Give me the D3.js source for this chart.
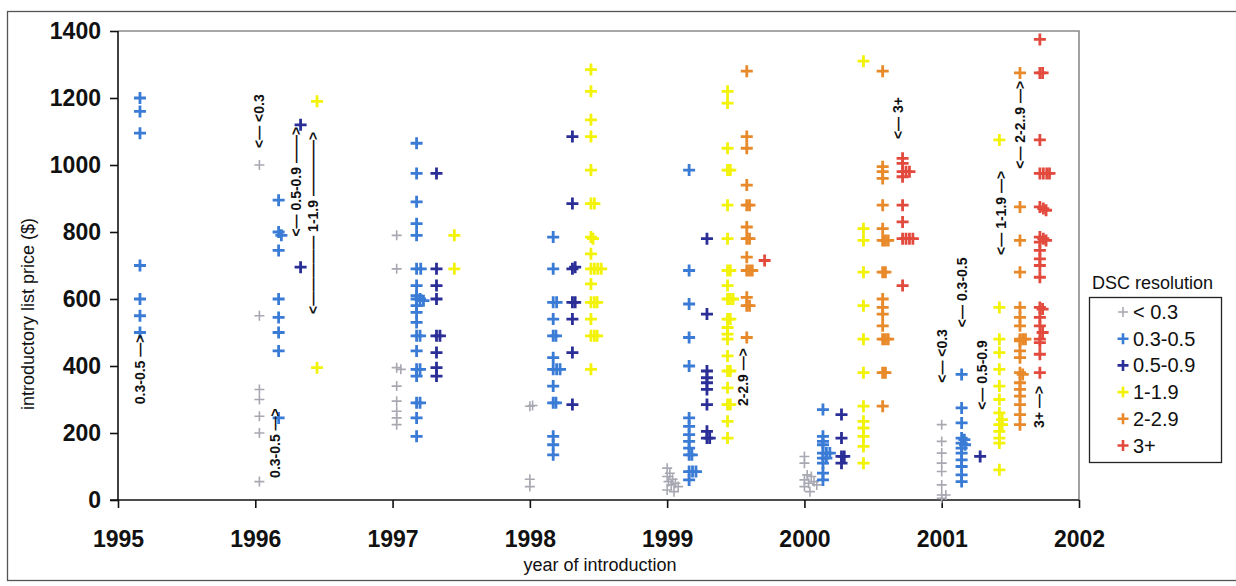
<!DOCTYPE html>
<html>
<head>
<meta charset="utf-8">
<script src="https://cdn.jsdelivr.net/npm/d3@7"></script>
<style>
    body { margin: 0; background: #fff; }
    svg { font-family: "Liberation Sans", Arial, sans-serif; }
</style>
</head>
<body>
<div id="chart"></div>
<script>
//  === Data ===
var xTicks = [1995, 1996, 1997, 1998, 1999, 2000, 2001, 2002];
var yTicks = [0, 200, 400, 600, 800, 1000, 1200, 1400];
var categories = ["< 0.3", "0.3-0.5", "0.5-0.9", "1-1.9", "2-2.9", "3+"];

// [year of introduction, list price $]
var resBelow03 = [
    [1996.03, 1000], [1996.03, 550], [1996.03, 330], [1996.03, 300], [1996.03, 250], [1996.03, 200], [1996.03, 55],
    [1997.03, 790], [1997.03, 690], [1997.03, 395], [1997.06, 390], [1997.03, 340], [1997.03, 295], [1997.03, 265], [1997.03, 245], [1997.03, 225],
    [1998.0, 280], [1998.02, 282], [1998.0, 62], [1998.0, 40],
    [1999.0, 95], [1999.02, 80], [1999.0, 70], [1999.04, 62], [1999.01, 55], [1999.06, 50], [1999.03, 45], [1999.08, 40], [1999.0, 30], [1999.05, 25],
    [2000.0, 130], [2000.0, 110], [2000.02, 75], [2000.05, 70], [2000.0, 60], [2000.07, 55], [2000.03, 50], [2000.09, 45], [2000.0, 40], [2000.04, 25],
    [2001.0, 225], [2001.0, 175], [2001.0, 140], [2001.0, 110], [2001.0, 85], [2001.0, 45], [2001.0, 15], [2001.03, 15], [2001.0, 5]
];
var res03to05 = [
    [1995.16, 1200], [1995.16, 1160], [1995.16, 1095], [1995.16, 700], [1995.16, 600], [1995.16, 550], [1995.16, 500],
    [1996.17, 895], [1996.17, 800], [1996.19, 790], [1996.17, 745], [1996.17, 600], [1996.17, 545], [1996.17, 500], [1996.17, 445], [1996.17, 245],
    [1997.175, 1065], [1997.175, 975], [1997.175, 890], [1997.175, 825], [1997.175, 790], [1997.175, 690], [1997.205, 690], [1997.175, 640],
    [1997.175, 610], [1997.175, 600], [1997.2, 600], [1997.225, 595], [1997.175, 580], [1997.175, 560], [1997.175, 530], [1997.175, 490],
    [1997.2, 490], [1997.175, 445], [1997.175, 390], [1997.2, 390], [1997.175, 370], [1997.175, 290], [1997.2, 290], [1997.175, 245], [1997.175, 190],
    [1998.17, 785], [1998.17, 690], [1998.17, 590], [1998.195, 590], [1998.17, 540], [1998.17, 490], [1998.19, 490], [1998.17, 425],
    [1998.17, 390], [1998.195, 390], [1998.22, 390], [1998.17, 340], [1998.17, 290], [1998.19, 290], [1998.17, 190], [1998.17, 165], [1998.17, 135],
    [1999.16, 985], [1999.16, 685], [1999.16, 585], [1999.16, 485], [1999.16, 400], [1999.16, 245], [1999.16, 220], [1999.16, 195],
    [1999.16, 175], [1999.16, 155], [1999.16, 135], [1999.18, 135], [1999.16, 85], [1999.185, 85], [1999.21, 85], [1999.16, 60],
    [2000.135, 270], [2000.135, 190], [2000.135, 175], [2000.135, 165], [2000.135, 140], [2000.16, 140], [2000.185, 140],
    [2000.135, 125], [2000.16, 125], [2000.135, 110], [2000.135, 80], [2000.135, 60],
    [2001.145, 375], [2001.145, 275], [2001.145, 230], [2001.145, 185], [2001.165, 180], [2001.145, 170], [2001.17, 165],
    [2001.145, 155], [2001.145, 140], [2001.145, 120], [2001.145, 100], [2001.145, 75], [2001.145, 55]
];
var res05to09 = [
    [1996.33, 1120], [1996.33, 695],
    [1997.32, 975], [1997.32, 690], [1997.32, 640], [1997.32, 600], [1997.32, 490], [1997.345, 490], [1997.32, 440], [1997.32, 395], [1997.32, 370],
    [1998.31, 1085], [1998.31, 885], [1998.31, 690], [1998.33, 695], [1998.31, 590], [1998.33, 590], [1998.31, 540], [1998.31, 440], [1998.31, 285],
    [1999.29, 780], [1999.29, 555], [1999.29, 385], [1999.29, 365], [1999.29, 350], [1999.29, 330], [1999.29, 285], [1999.29, 205], [1999.29, 185], [1999.31, 185],
    [2000.27, 255], [2000.27, 185], [2000.27, 130], [2000.29, 130], [2000.27, 110],
    [2001.28, 130]
];
var res1to19 = [
    [1996.45, 1190], [1996.45, 395],
    [1997.45, 790], [1997.45, 690],
    [1998.445, 1285], [1998.445, 1220], [1998.445, 1135], [1998.445, 1085], [1998.445, 985], [1998.445, 885], [1998.47, 885],
    [1998.445, 785], [1998.46, 780], [1998.445, 735], [1998.445, 690], [1998.47, 690], [1998.495, 690], [1998.52, 690],
    [1998.445, 645], [1998.445, 590], [1998.47, 590], [1998.49, 590], [1998.445, 540], [1998.445, 490], [1998.47, 490], [1998.49, 490], [1998.445, 390],
    [1999.44, 1220], [1999.44, 1185], [1999.44, 1050], [1999.44, 985], [1999.46, 985], [1999.44, 880], [1999.44, 780], [1999.44, 685],
    [1999.46, 685], [1999.44, 640], [1999.44, 600], [1999.46, 600], [1999.48, 600], [1999.44, 540], [1999.46, 540], [1999.44, 515],
    [1999.44, 495], [1999.44, 480], [1999.44, 430], [1999.44, 385], [1999.46, 385], [1999.44, 335], [1999.44, 285], [1999.46, 285], [1999.44, 235], [1999.44, 185],
    [2000.43, 1310], [2000.43, 810], [2000.43, 775], [2000.43, 680], [2000.43, 580], [2000.43, 480], [2000.43, 380],
    [2000.43, 280], [2000.43, 235], [2000.43, 215], [2000.43, 190], [2000.43, 160], [2000.43, 110],
    [2001.42, 1075], [2001.42, 575], [2001.42, 480], [2001.42, 440], [2001.42, 390], [2001.42, 340], [2001.42, 300], [2001.42, 260],
    [2001.44, 240], [2001.42, 225], [2001.44, 225], [2001.42, 205], [2001.42, 185], [2001.42, 170], [2001.42, 90]
];
var res2to29 = [
    [1999.58, 1280], [1999.58, 1085], [1999.58, 1050], [1999.58, 940], [1999.58, 880], [1999.6, 880], [1999.58, 815], [1999.58, 780],
    [1999.6, 780], [1999.58, 725], [1999.58, 685], [1999.6, 685], [1999.62, 685], [1999.58, 605], [1999.58, 580], [1999.6, 580], [1999.58, 485],
    [2000.57, 1280], [2000.57, 995], [2000.57, 980], [2000.57, 960], [2000.57, 880], [2000.57, 810], [2000.57, 775], [2000.59, 775],
    [2000.61, 775], [2000.57, 680], [2000.59, 680], [2000.57, 600], [2000.57, 575], [2000.57, 555], [2000.57, 520], [2000.57, 480],
    [2000.59, 480], [2000.61, 480], [2000.57, 380], [2000.59, 380], [2000.57, 280],
    [2001.57, 1275], [2001.57, 875], [2001.57, 775], [2001.57, 680], [2001.57, 575], [2001.57, 545], [2001.57, 520], [2001.57, 480],
    [2001.59, 480], [2001.61, 480], [2001.57, 475], [2001.57, 445], [2001.57, 425], [2001.57, 380], [2001.59, 375], [2001.57, 350],
    [2001.57, 330], [2001.57, 310], [2001.57, 285], [2001.57, 255], [2001.57, 225]
];
var res3plus = [
    [1999.71, 715],
    [2000.715, 1020], [2000.715, 1005], [2000.715, 980], [2000.74, 980], [2000.765, 980], [2000.715, 965], [2000.715, 880],
    [2000.715, 830], [2000.715, 780], [2000.74, 780], [2000.765, 780], [2000.79, 780], [2000.715, 640],
    [2001.715, 1375], [2001.715, 1275], [2001.735, 1275], [2001.715, 1075], [2001.715, 975], [2001.74, 975], [2001.765, 975],
    [2001.785, 975], [2001.715, 875], [2001.74, 870], [2001.76, 865], [2001.715, 785], [2001.74, 780], [2001.76, 775],
    [2001.715, 770], [2001.715, 745], [2001.715, 720], [2001.715, 700], [2001.715, 665], [2001.715, 575], [2001.735, 570],
    [2001.715, 545], [2001.715, 520], [2001.735, 500], [2001.715, 480], [2001.715, 470], [2001.715, 435], [2001.715, 380]
];

// rotated notes: [text, year, price at centre]
var notes = [
    ["0.3-0.5 \u2014>", 1995.16, 390],
    ["<\u2014 <0.3", 1996.03, 1131],
    ["0.3-0.5 \u2014>", 1996.14, 170],
    ["<\u2014 0.5-0.9 \u2014\u2014>", 1996.30, 950],
    ["<\u2014\u2014\u2014\u2014\u2014 1-1.9 \u2014\u2014\u2014\u2014>", 1996.42, 827],
    ["2-2.9 \u2014>", 1999.55, 367],
    ["<\u2014 3+", 2000.68, 1140],
    ["<\u2014 <0.3", 2001.0, 430],
    ["<\u2014 0.3-0.5", 2001.15, 620],
    ["<\u2014 0.5-0.9", 2001.29, 373],
    ["<\u2014 1-1.9 \u2014>", 2001.43, 857],
    ["<\u2014 2-2..9 \u2014>", 2001.57, 1120],
    ["3+ \u2014>", 2001.71, 278]
];
// /Data

//  === Chart ===
var width = 1236, height = 586;
var colors = ["#a8a8b2", "#3a7bd5", "#2a2e96", "#f2f20a", "#e8892a", "#e34a3e"];
var series = [resBelow03, res03to05, res05to09, res1to19, res2to29, res3plus];

var svg = d3.select("#chart").append("svg")
    .attr("width", width)
    .attr("height", height);

// outer frame
svg.append("rect")
    .attr("x", 7.5).attr("y", 11.5)
    .attr("width", 1260).attr("height", 569)
    .attr("fill", "none").attr("stroke", "#555").attr("stroke-width", 1.3);

var x = d3.scaleLinear().domain([1995, 2002]).range([118, 1079]);
var y = d3.scaleLinear().domain([0, 1400]).range([500, 31]);

// plot box top/right (grey)
svg.append("path")
    .attr("d", "M" + x(1995) + "," + y(1400) + "H" + x(2002) + "V" + y(0))
    .attr("fill", "none").attr("stroke", "#8a8a8a").attr("stroke-width", 1.6);

var yAxis = svg.append("g")
    .attr("transform", "translate(" + x(1995) + ",0)")
    .call(d3.axisLeft(y).tickValues(yTicks).tickFormat(d3.format("d")).tickSize(8).tickSizeOuter(0).tickPadding(9));
var xAxis = svg.append("g")
    .attr("transform", "translate(0," + y(0) + ")")
    .call(d3.axisBottom(x).tickValues(xTicks).tickFormat(d3.format("d")).tickSize(8).tickSizeOuter(0).tickPadding(23));

[yAxis, xAxis].forEach(function (g) {
    g.selectAll("path, line").attr("stroke", "#111").attr("stroke-width", 1.6);
    g.selectAll("text").attr("fill", "#111").style("font-size", "23px").style("font-weight", "bold");
});
yAxis.select(".domain").attr("d", "M0," + y(0) + "V" + y(1400));
xAxis.select(".domain").attr("d", "M" + (x(1995) - 8) + ",0H" + x(2002));

svg.append("text")
    .attr("transform", "translate(34,314) rotate(-90)")
    .attr("text-anchor", "middle")
    .style("font-size", "18px").attr("fill", "#111")
    .text("introductory list price ($)");
svg.append("text")
    .attr("x", 600).attr("y", 571)
    .attr("text-anchor", "middle")
    .style("font-size", "18px").attr("fill", "#111")
    .text("year of introduction");

function cross(size) {
    return "M" + (-size) + ",0H" + size + "M0," + (-size) + "V" + size;
}

// points
series.forEach(function (data, i) {
    svg.append("g").selectAll("path")
        .data(data)
        .enter()
        .append("path")
        .attr("d", cross(i == 0 ? 5 : 6))
        .attr("transform", function (d) { return "translate(" + x(d[0]) + "," + y(d[1]) + ")"; })
        .attr("fill", "none")
        .attr("stroke", colors[i])
        .attr("stroke-width", i == 0 ? 1.6 : 2.8);
});

// notes
svg.append("g").selectAll("text")
    .data(notes)
    .enter()
    .append("text")
    .attr("transform", function (d) { return "translate(" + (x(d[1]) + 5) + "," + y(d[2]) + ") rotate(-90)"; })
    .attr("text-anchor", "middle")
    .style("font-size", "14px").style("font-weight", "bold")
    .attr("fill", "#111")
    .text(function (d) { return d[0]; });

// legend
var legend = svg.append("g");
legend.append("text")
    .attr("x", 1092).attr("y", 289)
    .style("font-size", "18px").attr("fill", "#111")
    .text("DSC resolution");
legend.append("rect")
    .attr("x", 1089.5).attr("y", 297.5)
    .attr("width", 132).attr("height", 165)
    .attr("fill", "none").attr("stroke", "#222").attr("stroke-width", 1.3);
var item = legend.selectAll(".item")
    .data(categories)
    .enter()
    .append("g")
    .attr("class", "item")
    .attr("transform", function (d, i) { return "translate(1123," + (312 + i * 26.7) + ")"; });
item.append("path")
    .attr("d", function (d, i) { return cross(i == 0 ? 5 : 5.5); })
    .attr("fill", "none")
    .attr("stroke", function (d, i) { return colors[i]; })
    .attr("stroke-width", function (d, i) { return i == 0 ? 1.6 : 2.6; });
item.append("text")
    .attr("x", 10).attr("dy", "0.35em")
    .style("font-size", "20px").attr("fill", "#111")
    .text(function (d) { return d; });
// /Chart
</script>
</body>
</html>
